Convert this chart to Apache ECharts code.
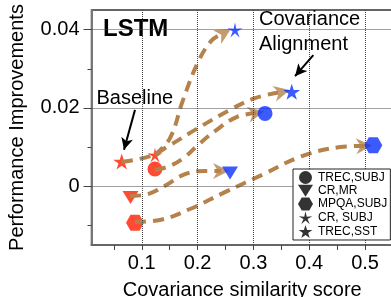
<!DOCTYPE html>
<html>
<head>
<meta charset="utf-8">
<script src="https://cdn.jsdelivr.net/npm/echarts@6/dist/echarts.min.js"></script>
<style>
html, body { margin: 0; padding: 0; background: #fff; }
#chart { width: 391px; height: 297px; }
</style>
</head>
<body>
<div id="chart"></div>
<script>
// datasets (legend order)
const datasets = ['TREC,SUBJ', 'CR,MR', 'MPQA,SUBJ', 'CR, SUBJ', 'TREC,SST']

// baseline (red) and covariance alignment (blue) points
const baseX = [0.1237, 0.0799, 0.0879, 0.1237, 0.0641]
const baseY = [0.0044, -0.0029, -0.0093, 0.0080, 0.0063]
const alignX = [0.3208, 0.2581, 0.5147, 0.2670, 0.3686]
const alignY = [0.0186, 0.0034, 0.0105, 0.0399, 0.0241]

// dashed arrow paths
const pathX = [
  [0.1237, 0.1506, 0.1775, 0.1990, 0.2312, 0.2706, 0.3047],
  [0.0790, 0.1112, 0.1417, 0.1775, 0.2133, 0.2420],
  [0.0879, 0.1327, 0.1864, 0.2491, 0.3154, 0.3870, 0.4551, 0.4981],
  [0.1237, 0.1506, 0.1739, 0.2008, 0.2258, 0.2473],
  [0.0646, 0.1148, 0.1506, 0.1954, 0.2581, 0.3029, 0.3512]
]
const pathY = [
  [0.0041, 0.0052, 0.0075, 0.0103, 0.0141, 0.0177, 0.0187],
  [-0.0025, -0.0020, 0.0001, 0.0031, 0.0039, 0.0039],
  [-0.0091, -0.0086, -0.0058, -0.0015, 0.0029, 0.0077, 0.0100, 0.0103],
  [0.0080, 0.0123, 0.0220, 0.0317, 0.0373, 0.0391],
  [0.0062, 0.0077, 0.0105, 0.0144, 0.0195, 0.0225, 0.0241]
]

// axis ticks
const xTicks = [0.05, 0.1, 0.15, 0.2, 0.25, 0.3, 0.35, 0.4, 0.45, 0.5]
const xLabels = [0.1, 0.2, 0.3, 0.4, 0.5]
const yLabels = [0, 0.02, 0.04]
const yMinorTicks = [-0.01, 0.01, 0.03]

// annotation arrows [from, to]
const baselineArrow = [[0.0879, 0.0195], [0.0682, 0.0093]]
const alignArrow = [[0.4073, 0.0335], [0.3745, 0.0281]]

const FONT = '"Liberation Sans", Arial, Helvetica, sans-serif'
const RED = '#ff1e00'
const BLUE = '#0a32ff'
const BROWN = '#b5824b'

const symbols = [
  'circle',
  'path://M0,0 L100,0 L50,80 Z',
  'path://M0,43.3 L25,0 L75,0 L100,43.3 L75,86.6 L25,86.6 Z',
  'path://M50,0 L58.8,37.9 L97.55,34.55 L64.3,54.6 L79.39,90.45 L50,65 L20.61,90.45 L35.7,54.6 L2.45,34.55 L41.2,37.9 Z',
  'path://M50,0 L61.23,34.55 L97.55,34.55 L68.17,55.9 L79.39,90.45 L50,69.1 L20.61,90.45 L31.83,55.9 L2.45,34.55 L38.77,34.55 Z'
]
const symbolSizes = [15, [16, 13], [18, 16], [15, 15], [17, 16]]
const ARROW = 'path://M0,0 L100,50 L0,100 L30,50 Z'

const chart = echarts.init(document.getElementById('chart'))

// drawn in reverse so the circles sit on top of the asterisks
function markerSeries(xs, ys, color, z) {
  return datasets.map((name, i) => ({
    type: 'scatter',
    name: name,
    symbol: symbols[i],
    symbolSize: symbolSizes[i],
    data: [[xs[i], ys[i]]],
    itemStyle: { color: color },
    z: z,
    silent: true
  })).reverse()
}

// arrow heads follow the direction of the last path segment
function arrowData() {
  return pathX.map((xs, i) => {
    const n = xs.length
    const p1 = chart.convertToPixel({ gridIndex: 0 }, [xs[n - 2], pathY[i][n - 2]])
    const p2 = chart.convertToPixel({ gridIndex: 0 }, [xs[n - 1], pathY[i][n - 1]])
    const ang = Math.atan2(p1[1] - p2[1], p2[0] - p1[0]) * 180 / Math.PI
    return { value: [xs[n - 1], pathY[i][n - 1]], symbolRotate: ang }
  })
}

const gridLines = xLabels.map(v => ({ xAxis: v })).concat(yLabels.map(v => ({ yAxis: v })))

const option = {
  animation: false,
  textStyle: { fontFamily: FONT },
  grid: {
    left: 91.5, top: 10, width: 301.5, height: 235,
    outerBoundsMode: 'none',
    show: true, borderColor: '#333', borderWidth: 1.5
  },
  xAxis: {
    type: 'value', min: 0.01, max: 0.55,
    name: 'Covariance similarity score',
    nameLocation: 'middle', nameGap: 35,
    nameTextStyle: { fontSize: 20, color: '#000', fontFamily: FONT },
    axisLine: { show: true, onZero: false, lineStyle: { color: '#666', width: 2 } },
    axisTick: { show: true, customValues: xTicks, length: 5, lineStyle: { color: '#444' } },
    axisLabel: {
      customValues: xLabels, formatter: v => v.toFixed(1),
      color: '#000', fontSize: 20, fontFamily: FONT, margin: 8
    },
    splitLine: { show: false }
  },
  yAxis: [{
    type: 'value', min: -0.015, max: 0.045, position: 'left',
    name: 'Performance Improvements',
    nameLocation: 'middle', nameGap: 64,
    nameTextStyle: { fontSize: 20, color: '#000', fontFamily: FONT },
    axisLine: { show: true, onZero: false, lineStyle: { color: '#777', width: 2 } },
    axisTick: { show: true, customValues: yLabels, length: 8, lineStyle: { color: '#444' } },
    axisLabel: {
      customValues: yLabels, formatter: v => (v === 0 ? '0' : v.toFixed(2)),
      color: '#000', fontSize: 20, fontFamily: FONT, margin: 12
    },
    splitLine: { show: false }
  }, {
    type: 'value', min: -0.015, max: 0.045, position: 'left',
    axisLine: { show: false, onZero: false },
    axisTick: { show: true, customValues: yMinorTicks, length: 4, lineStyle: { color: '#444' } },
    axisLabel: { show: false },
    splitLine: { show: false }
  }],
  legend: {
    orient: 'vertical', left: 293, top: 169,
    itemWidth: 15, itemHeight: 13, itemGap: 0.75,
    padding: [2, 3, 2, 5],
    backgroundColor: '#fff', borderColor: '#222', borderWidth: 1,
    textStyle: { fontSize: 12, color: '#000', fontFamily: FONT },
    z: 10,
    data: datasets.map((name, i) => ({ name: name, icon: symbols[i], itemStyle: { color: '#000' } }))
  },
  graphic: [
    { type: 'text', x: 103, y: 29, style: { text: 'LSTM', font: 'bold 24px ' + FONT, fill: '#000', verticalAlign: 'middle' } },
    { type: 'text', x: 96.5, y: 98.5, style: { text: 'Baseline', font: '20px ' + FONT, fill: '#000', verticalAlign: 'middle' } },
    { type: 'text', x: 259, y: 19.5, style: { text: 'Covariance', font: '20px ' + FONT, fill: '#000', verticalAlign: 'middle' } },
    { type: 'text', x: 259, y: 44, style: { text: 'Alignment', font: '20px ' + FONT, fill: '#000', verticalAlign: 'middle' } }
  ],
  series: [
    {
      type: 'scatter', data: [], z: 1, silent: true,
      markLine: {
        silent: true, symbol: ['none', 'none'],
        label: { show: false },
        lineStyle: { color: '#444', width: 1, type: 'dotted' },
        data: gridLines
      }
    },
    {
      type: 'scatter', data: [], z: 6, silent: true,
      markLine: {
        silent: true, symbol: ['none', 'arrow'], symbolSize: [9, 12],
        label: { show: false },
        lineStyle: { color: '#000', width: 2, type: 'solid' },
        data: [
          [{ coord: baselineArrow[0] }, { coord: baselineArrow[1] }],
          [{ coord: alignArrow[0] }, { coord: alignArrow[1] }]
        ]
      }
    }
  ]
    .concat(markerSeries(baseX, baseY, RED, 2))
    .concat(pathX.map((xs, i) => ({
      type: 'line',
      data: xs.map((x, j) => [x, pathY[i][j]]),
      smooth: 0.4, symbol: 'none', silent: true, z: 3,
      lineStyle: { color: BROWN, width: 4, type: [11, 7] }
    })))
    .concat([{ id: 'arrows', type: 'scatter', data: [], symbol: ARROW, symbolSize: [16, 16], itemStyle: { color: BROWN }, z: 4, silent: true }])
    .concat(markerSeries(alignX, alignY, BLUE, 5))
}

chart.setOption(option)
chart.setOption({ series: [{ id: 'arrows', data: arrowData() }] })
</script>
</body>
</html>
